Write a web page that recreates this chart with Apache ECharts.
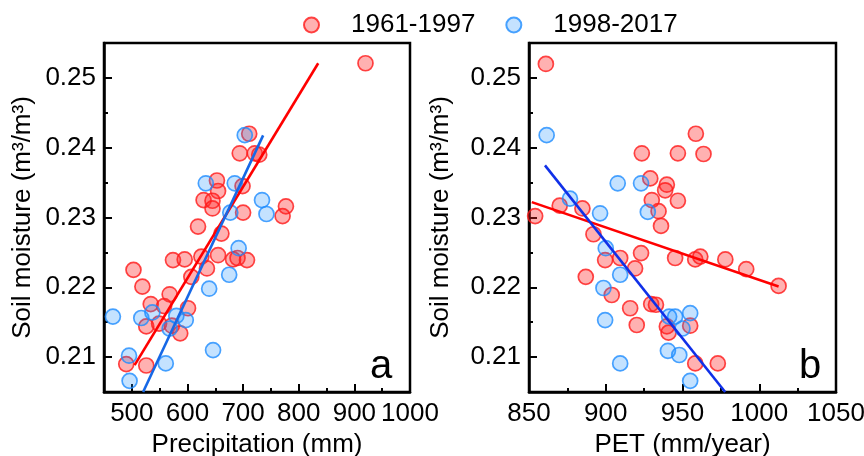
<!DOCTYPE html>
<html>
<head>
<meta charset="utf-8">
<script src="https://cdn.jsdelivr.net/npm/echarts@6/dist/echarts.min.js"></script>
<style>html,body{margin:0;padding:0;background:#fff}#c{width:864px;height:456px}</style>
</head>
<body>
<div id="c"></div>
<script>
// Panel a: precipitation (mm) vs soil moisture
const precipRed = [[920,0.2521],[711,0.2420],[694,0.2392],[721,0.2392],[729,0.2390],[653,0.2353],[699,0.2345],[655,0.2338],[629,0.2325],[645,0.2324],[645,0.2313],[700,0.2307],[777,0.2316],[771,0.2302],[619,0.2287],[661,0.2277],[574,0.2239],[595,0.2240],[625,0.2244],[655,0.2246],[682,0.2240],[690,0.2242],[707,0.2239],[635,0.2227],[607,0.2215],[503,0.2225],[519,0.2201],[534,0.2176],[568,0.2190],[558,0.2173],[601,0.2170],[526,0.2144],[549,0.2148],[572,0.2145],[587,0.2134],[490,0.2090],[526,0.2088]];
const precipBlue = [[703,0.2418],[633,0.2349],[685,0.2349],[734,0.2325],[742,0.2305],[677,0.2307],[692,0.2256],[675,0.2218],[639,0.2198],[466,0.2158],[517,0.2156],[537,0.2164],[580,0.2159],[597,0.2153],[568,0.2141],[495,0.2102],[561,0.2091],[496,0.2066],[646,0.2110]];
// Panel b: PET (mm/year) vs soil moisture
const petRed = [[861,0.2520],[958.7,0.2420],[923.5,0.2392],[947,0.2392],[963.7,0.2391],[929,0.2356],[939.8,0.2347],[938.7,0.2339],[930,0.2325],[947,0.2324],[934.4,0.2309],[936,0.2288],[854,0.2302],[870,0.2317],[884.8,0.2313],[892,0.2276],[899.6,0.2239],[909.4,0.2242],[923,0.2249],[919.1,0.2227],[945.2,0.2242],[958.3,0.2240],[961.6,0.2244],[977.9,0.2240],[991.5,0.2226],[1012.6,0.2202],[887,0.2215],[903.9,0.2189],[915.9,0.2170],[920.2,0.2146],[929.6,0.2176],[932.7,0.2175],[939.8,0.2144],[940.9,0.2135],[955,0.2145],[958.3,0.2091],[973,0.2091]];
const petBlue = [[861.5,0.2418],[876.7,0.2327],[896.3,0.2306],[907.8,0.2349],[923,0.2349],[927.4,0.2308],[900,0.2256],[909.4,0.2218],[898.5,0.2199],[899.6,0.2153],[909.4,0.2091],[941.3,0.2158],[945.2,0.2158],[955,0.2163],[950,0.2141],[940.5,0.2109],[947.9,0.2103],[955,0.2066]];
// Regression lines (end points)
const fitPrecipRed = [[505,0.20885],[835,0.2521]];
const fitPrecipBlue = [[520.3,0.205],[736,0.24176]];
const fitPetRed = [[851.8,0.2322],[1012.6,0.2201]];
const fitPetBlue = [[860.4,0.23746],[977.8,0.205]];
// Axis ranges / tick steps
const precipRange = [450, 1000], precipStep = 100;
const petRange = [850, 1050], petStep = 50;
const smRange = [0.205, 0.255], smStep = 0.01;
const seriesNames = ['1961-1997','1998-2017'];

const FONT = 'Liberation Sans, Arial, sans-serif';
const redStyle = {color:'rgba(255,40,40,0.45)', borderColor:'rgb(255,25,25)', borderWidth:1.7};
const blueStyle = {color:'rgba(30,144,255,0.33)', borderColor:'rgb(30,140,255)', borderWidth:1.7};
const frameLine = {color:'#000', width:2.5};
const tickLine = {color:'#000', width:2};
const labelBase = {fontSize:26, color:'#000', fontFamily:FONT};
const nameBase = {fontSize:26, color:'#000', fontFamily:FONT};

const xAxes = [
  // 0: panel a data axis + labels (every 50, labels only at 100s)
  {gridIndex:0, type:'value', min:precipRange[0], max:precipRange[1], interval:precipStep/2, position:'bottom',
   splitLine:{show:false}, axisLine:{show:true, onZero:false, lineStyle:frameLine}, axisTick:{show:false},
   axisLabel:Object.assign({margin:9, formatter:v => (Math.round(v) % precipStep === 0 ? String(Math.round(v)) : '')}, labelBase),
   name:'Precipitation (mm)', nameLocation:'middle', nameGap:39, nameTextStyle:nameBase},
  // 1: panel a major ticks at 500..1000 (counted from the max via an inverted, negated axis)
  {gridIndex:0, type:'value', inverse:true, min:-precipRange[1], max:-precipRange[0], interval:precipStep, position:'bottom',
   splitLine:{show:false}, axisLine:{show:false, onZero:false}, axisLabel:{show:false},
   axisTick:{show:true, inside:true, length:8, lineStyle:tickLine}},
  // 2: panel a minor ticks at 550..950
  {gridIndex:0, type:'value', min:precipRange[0], max:precipRange[1], interval:precipStep, position:'bottom',
   splitLine:{show:false}, axisLine:{show:false, onZero:false}, axisLabel:{show:false},
   axisTick:{show:true, inside:true, length:4, lineStyle:tickLine}},
  // 3: panel b
  {gridIndex:1, type:'value', min:petRange[0], max:petRange[1], interval:petStep, position:'bottom',
   splitLine:{show:false}, axisLine:{show:true, onZero:false, lineStyle:frameLine},
   axisTick:{show:true, inside:true, length:8, lineStyle:tickLine},
   minorTick:{show:true, splitNumber:2, length:4, lineStyle:tickLine},
   axisLabel:Object.assign({margin:9, formatter:v => String(Math.round(v))}, labelBase),
   name:'PET (mm/year)', nameLocation:'middle', nameGap:39, nameTextStyle:nameBase}
];

function yData(grid, gap){
  return {gridIndex:grid, type:'value', min:smRange[0], max:smRange[1], interval:smStep/2, position:'left',
    splitLine:{show:false}, axisLine:{show:true, onZero:false, lineStyle:frameLine}, axisTick:{show:false},
    axisLabel:Object.assign({margin:8, formatter:v => { const r = Math.round(v*1000); return r % 10 === 0 ? (r/1000).toFixed(2) : ''; }}, labelBase),
    name:'Soil moisture (m³/m³)', nameLocation:'middle', nameGap:gap, nameTextStyle:nameBase};
}
function yTicks(grid){
  // ticks at 0.205, 0.215, ... (short) with minor ticks at 0.21 ... 0.25 (long)
  return {gridIndex:grid, type:'value', min:smRange[0], max:smRange[1], interval:smStep, position:'left',
    splitLine:{show:false}, axisLine:{show:false, onZero:false}, axisLabel:{show:false},
    axisTick:{show:true, inside:true, length:4, lineStyle:tickLine},
    minorTick:{show:true, splitNumber:2, length:8, lineStyle:tickLine}};
}
function scatter(name, x, y, data, style){
  return {name, type:'scatter', xAxisIndex:x, yAxisIndex:y, data, symbol:'circle', symbolSize:15, itemStyle:style, z:2, silent:true};
}
function fit(x, y, data, color){
  return {type:'line', xAxisIndex:x, yAxisIndex:y, data, symbol:'none', lineStyle:{color, width:2.6}, z:3, silent:true};
}

const chart = echarts.init(document.getElementById('c'), null, {renderer:'canvas'});
chart.setOption({
  animation:false,
  backgroundColor:'#fff',
  legend:{data:seriesNames, left:298, top:7, itemWidth:15, itemHeight:15, itemGap:30, icon:'circle',
    textStyle:{fontSize:26, color:'#000', fontFamily:FONT, padding:[0,0,0,27]}},
  grid:[
    {left:104, top:43, width:306, height:349, outerBoundsMode:'none', containLabel:false, show:true, borderColor:'#000', borderWidth:2.5, backgroundColor:'transparent'},
    {left:529, top:43, width:307, height:349, outerBoundsMode:'none', containLabel:false, show:true, borderColor:'#000', borderWidth:2.5, backgroundColor:'transparent'}
  ],
  xAxis:xAxes,
  yAxis:[yData(0, 68), yTicks(0), yData(1, 75), yTicks(1)],
  graphic:[
    {type:'text', left:370, top:347, style:{text:'a', font:'40px '+FONT, fill:'#000'}},
    {type:'text', left:799, top:347, style:{text:'b', font:'40px '+FONT, fill:'#000'}}
  ],
  series:[
    scatter(seriesNames[0], 0, 0, precipRed, redStyle),
    scatter(seriesNames[1], 0, 0, precipBlue, blueStyle),
    scatter(seriesNames[0], 3, 2, petRed, redStyle),
    scatter(seriesNames[1], 3, 2, petBlue, blueStyle),
    fit(0, 0, fitPrecipRed, '#FF0000'),
    fit(0, 0, fitPrecipBlue, '#1668E6'),
    fit(3, 2, fitPetRed, '#FF0000'),
    fit(3, 2, fitPetBlue, '#1030E8')
  ]
});
</script>
</body>
</html>
